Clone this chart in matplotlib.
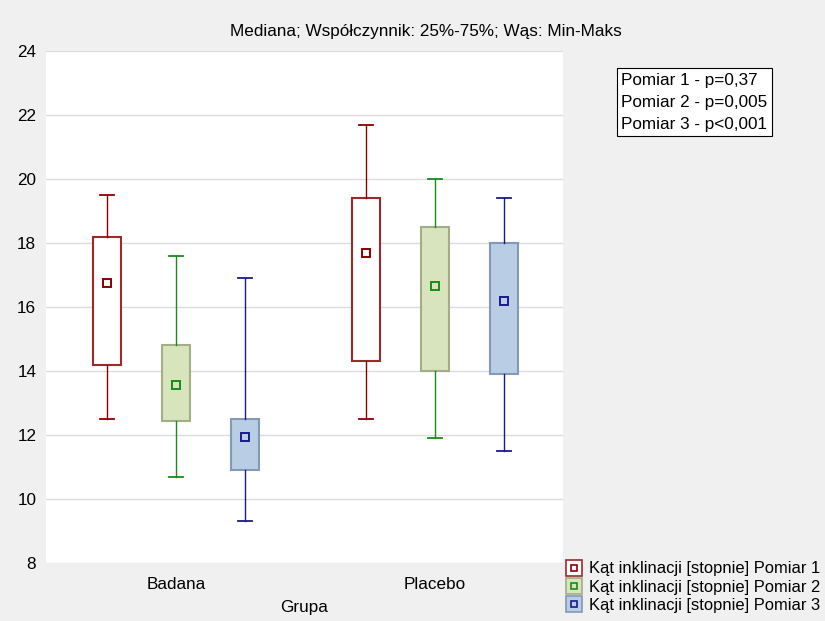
import matplotlib.pyplot as plt
from matplotlib.lines import Line2D

plt.rcParams['font.family'] = ['Liberation Sans', 'DejaVu Sans']
plt.rcParams['font.size'] = 12.3

groups = ["Badana", "Placebo"]
series = ["Kąt inklinacji [stopnie] Pomiar 1",
          "Kąt inklinacji [stopnie] Pomiar 2",
          "Kąt inklinacji [stopnie] Pomiar 3"]

# per series: [Badana, Placebo]
p1_min = [12.5, 12.5]
p1_q1 = [14.2, 14.3]
p1_med = [16.75, 17.7]
p1_q3 = [18.2, 19.4]
p1_max = [19.5, 21.7]

p2_min = [10.7, 11.9]
p2_q1 = [12.45, 14.0]
p2_med = [13.55, 16.65]
p2_q3 = [14.8, 18.5]
p2_max = [17.6, 20.0]

p3_min = [9.3, 11.5]
p3_q1 = [10.9, 13.9]
p3_med = [11.95, 16.2]
p3_q3 = [12.5, 18.0]
p3_max = [16.9, 19.4]

pvals = ["Pomiar 1 - p=0,37", "Pomiar 2 - p=0,005", "Pomiar 3 - p<0,001"]

face = ["white", "#d8e4bc", "#b9cde5"]
edge = ["#9b2a2a", "#a3ad88", "#8499b8"]
line = ["#8b0000", "#1a8a1a", "#1a1a8c"]
offsets = [-0.266, 0.0, 0.266]

fig = plt.figure(figsize=(8.25, 6.21), dpi=100, facecolor="#f0f0f0")
ax = fig.add_axes([0.0558, 0.0934, 0.6264, 0.8245])
ax.set_facecolor("white")

data = [(p1_min, p1_q1, p1_med, p1_q3, p1_max),
        (p2_min, p2_q1, p2_med, p2_q3, p2_max),
        (p3_min, p3_q1, p3_med, p3_q3, p3_max)]

handles = []
for k, (lo, q1, med, q3, hi) in enumerate(data):
    stats = [dict(whislo=lo[i], q1=q1[i], med=med[i], q3=q3[i], whishi=hi[i], fliers=[])
             for i in range(len(groups))]
    pos = [i + offsets[k] for i in range(len(groups))]
    ax.bxp(stats, positions=pos, widths=0.108, patch_artist=True, showfliers=False,
           boxprops=dict(facecolor=face[k], edgecolor=edge[k], linewidth=1.5),
           whiskerprops=dict(color=line[k], linewidth=1),
           capprops=dict(color=line[k], linewidth=1.3),
           capwidths=0.055,
           medianprops=dict(linestyle="none"), zorder=3)
    # median as a hollow square
    ax.plot(pos, med, "s", ms=5.8, mfc="none", mec=line[k], mew=1.4, zorder=4)
    handles.append((Line2D([], [], ls="none", marker="s", ms=11, mfc=face[k], mec=edge[k], mew=1.2),
                    Line2D([], [], ls="none", marker="s", ms=4.5, mfc="none", mec=line[k], mew=1.2)))

ax.set_xlim(-0.502, 1.494)
ax.set_ylim(8, 24)
ax.set_yticks(range(8, 25, 2))
ax.set_xticks(range(len(groups)))
ax.set_xticklabels(groups)
ax.tick_params(length=0)
ax.tick_params(axis="y", pad=7)
ax.tick_params(axis="x", pad=10)
ax.grid(axis="y", color="#dcdcdc", linewidth=1)
ax.set_axisbelow(True)
for s in ax.spines.values():
    s.set_visible(False)
ax.set_xlabel("Grupa", labelpad=6)

fig.text(0.516, 0.95, "Mediana; Współczynnik: 25%-75%; Wąs: Min-Maks", ha="center", va="center")

fig.text(0.753, 0.883, "\n".join(pvals), ha="left", va="top", linespacing=1.6,
         bbox=dict(boxstyle="square,pad=0.25", facecolor="white", edgecolor="black", linewidth=0.8))

fig.legend(handles, series, loc="upper left", bbox_to_anchor=(0.687, 0.096),
           frameon=False, handlelength=0.9, handletextpad=0.45, borderaxespad=0,
           labelspacing=0.2, borderpad=0, fontsize=11.9)

fig.savefig("out.png", dpi=100, facecolor=fig.get_facecolor())
